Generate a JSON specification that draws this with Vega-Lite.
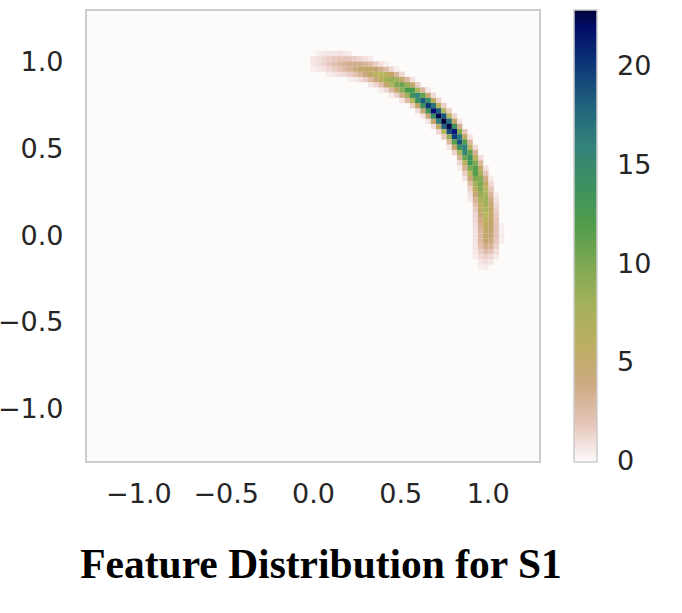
{
  "$schema": "https://vega.github.io/schema/vega-lite/v6.json",
  "width": 454,
  "height": 452,
  "autosize": {"type": "none"},
  "padding": {"left": 86, "top": 10, "right": 142, "bottom": 151},
  "background": "white",
  "title": {"text": "Feature Distribution for S1", "orient": "bottom", "font": "Liberation Serif", "fontSize": 41.5, "fontWeight": "bold", "color": "#000000", "offset": 38, "dx": 8},
  "data": {"values": [
    {"x":0.0,"y":0.96,"v":0.4},{"x":0.0,"y":0.99,"v":0.65},{"x":0.0,"y":1.02,"v":0.6},
    {"x":0.03,"y":0.96,"v":0.56},{"x":0.03,"y":0.99,"v":0.92},{"x":0.03,"y":1.02,"v":0.83},{"x":0.03,"y":1.05,"v":0.41},
    {"x":0.06,"y":0.96,"v":0.82},{"x":0.06,"y":0.99,"v":1.3},{"x":0.06,"y":1.02,"v":1.13},{"x":0.06,"y":1.05,"v":0.55},
    {"x":0.09,"y":0.93,"v":0.42},{"x":0.09,"y":0.96,"v":1.15},{"x":0.09,"y":0.99,"v":1.73},{"x":0.09,"y":1.02,"v":1.44},{"x":0.09,"y":1.05,"v":0.67},
    {"x":0.12,"y":0.93,"v":0.6},{"x":0.12,"y":0.96,"v":1.55},{"x":0.12,"y":0.99,"v":2.2},{"x":0.12,"y":1.02,"v":1.73},{"x":0.12,"y":1.05,"v":0.75},
    {"x":0.15,"y":0.93,"v":0.87},{"x":0.15,"y":0.96,"v":2.06},{"x":0.15,"y":0.99,"v":2.69},{"x":0.15,"y":1.02,"v":1.96},{"x":0.15,"y":1.05,"v":0.8},
    {"x":0.18,"y":0.93,"v":1.12},{"x":0.18,"y":0.96,"v":2.57},{"x":0.18,"y":0.99,"v":3.1},{"x":0.18,"y":1.02,"v":1.96},{"x":0.18,"y":1.05,"v":0.65},
    {"x":0.21,"y":0.90,"v":0.4},{"x":0.21,"y":0.93,"v":1.56},{"x":0.21,"y":0.96,"v":3.2},{"x":0.21,"y":0.99,"v":3.4},{"x":0.21,"y":1.02,"v":1.87},{"x":0.21,"y":1.05,"v":0.53},
    {"x":0.24,"y":0.90,"v":0.6},{"x":0.24,"y":0.93,"v":2.15},{"x":0.24,"y":0.96,"v":3.87},{"x":0.24,"y":0.99,"v":3.5},{"x":0.24,"y":1.02,"v":1.6},
    {"x":0.27,"y":0.90,"v":0.97},{"x":0.27,"y":0.93,"v":3.0},{"x":0.27,"y":0.96,"v":4.57},{"x":0.27,"y":0.99,"v":3.4},{"x":0.27,"y":1.02,"v":1.25},
    {"x":0.30,"y":0.90,"v":1.6},{"x":0.30,"y":0.93,"v":4.1},{"x":0.30,"y":0.96,"v":5.1},{"x":0.30,"y":0.99,"v":3.05},{"x":0.30,"y":1.02,"v":0.87},
    {"x":0.33,"y":0.87,"v":0.61},{"x":0.33,"y":0.90,"v":2.6},{"x":0.33,"y":0.93,"v":5.3},{"x":0.33,"y":0.96,"v":5.2},{"x":0.33,"y":0.99,"v":2.4},{"x":0.33,"y":1.02,"v":0.51},
    {"x":0.36,"y":0.87,"v":1.24},{"x":0.36,"y":0.90,"v":4.1},{"x":0.36,"y":0.93,"v":6.4},{"x":0.36,"y":0.96,"v":4.74},{"x":0.36,"y":0.99,"v":1.63},
    {"x":0.39,"y":0.84,"v":0.47},{"x":0.39,"y":0.87,"v":2.4},{"x":0.39,"y":0.90,"v":6.0},{"x":0.39,"y":0.93,"v":6.94},{"x":0.39,"y":0.96,"v":3.72},{"x":0.39,"y":0.99,"v":0.91},
    {"x":0.42,"y":0.84,"v":1.16},{"x":0.42,"y":0.87,"v":4.4},{"x":0.42,"y":0.90,"v":7.9},{"x":0.42,"y":0.93,"v":6.5},{"x":0.42,"y":0.96,"v":2.44},{"x":0.42,"y":0.99,"v":0.4},
    {"x":0.45,"y":0.81,"v":0.47},{"x":0.45,"y":0.84,"v":2.67},{"x":0.45,"y":0.87,"v":7.2},{"x":0.45,"y":0.90,"v":8.8},{"x":0.45,"y":0.93,"v":4.9},{"x":0.45,"y":0.96,"v":1.23},
    {"x":0.48,"y":0.81,"v":1.42},{"x":0.48,"y":0.84,"v":5.5},{"x":0.48,"y":0.87,"v":9.9},{"x":0.48,"y":0.90,"v":8.1},{"x":0.48,"y":0.93,"v":2.9},{"x":0.48,"y":0.96,"v":0.46},
    {"x":0.51,"y":0.78,"v":0.7},{"x":0.51,"y":0.81,"v":3.76},{"x":0.51,"y":0.84,"v":9.4},{"x":0.51,"y":0.87,"v":10.8},{"x":0.51,"y":0.90,"v":5.5},{"x":0.51,"y":0.93,"v":1.24},
    {"x":0.54,"y":0.78,"v":2.4},{"x":0.54,"y":0.81,"v":8.1},{"x":0.54,"y":0.84,"v":12.6},{"x":0.54,"y":0.87,"v":8.8},{"x":0.54,"y":0.90,"v":2.66},
    {"x":0.57,"y":0.75,"v":1.55},{"x":0.57,"y":0.78,"v":6.8},{"x":0.57,"y":0.81,"v":13.75},{"x":0.57,"y":0.84,"v":12.6},{"x":0.57,"y":0.87,"v":5.0},{"x":0.57,"y":0.90,"v":0.86},
    {"x":0.60,"y":0.72,"v":0.98},{"x":0.60,"y":0.75,"v":5.3},{"x":0.60,"y":0.78,"v":14.0},{"x":0.60,"y":0.81,"v":16.0},{"x":0.60,"y":0.84,"v":7.6},{"x":0.60,"y":0.87,"v":1.6},
    {"x":0.63,"y":0.69,"v":0.76},{"x":0.63,"y":0.72,"v":4.4},{"x":0.63,"y":0.75,"v":13.7},{"x":0.63,"y":0.78,"v":18.5},{"x":0.63,"y":0.81,"v":11.3},{"x":0.63,"y":0.84,"v":2.8},
    {"x":0.66,"y":0.66,"v":0.75},{"x":0.66,"y":0.69,"v":4.2},{"x":0.66,"y":0.72,"v":13.6},{"x":0.66,"y":0.75,"v":20.3},{"x":0.66,"y":0.78,"v":14.3},{"x":0.66,"y":0.81,"v":4.4},{"x":0.66,"y":0.84,"v":0.64},
    {"x":0.69,"y":0.63,"v":0.9},{"x":0.69,"y":0.66,"v":4.7},{"x":0.69,"y":0.69,"v":14.6},{"x":0.69,"y":0.72,"v":21.8},{"x":0.69,"y":0.75,"v":17.2},{"x":0.69,"y":0.78,"v":6.0},{"x":0.69,"y":0.81,"v":1.05},
    {"x":0.72,"y":0.78,"v":1.3},
    {"x":0.72,"y":0.75,"v":6.6},{"x":0.75,"y":0.75,"v":1.45},
    {"x":0.72,"y":0.72,"v":18.2},{"x":0.75,"y":0.72,"v":7.0},{"x":0.78,"y":0.72,"v":1.46},
    {"x":0.72,"y":0.69,"v":22.6},{"x":0.75,"y":0.69,"v":18.8},{"x":0.78,"y":0.69,"v":6.6},{"x":0.81,"y":0.69,"v":1.2},
    {"x":0.72,"y":0.66,"v":16.5},{"x":0.75,"y":0.66,"v":22.9},{"x":0.78,"y":0.66,"v":17.4},{"x":0.81,"y":0.66,"v":5.2},{"x":0.84,"y":0.66,"v":0.75},
    {"x":0.72,"y":0.63,"v":5.9},{"x":0.75,"y":0.63,"v":18.1},{"x":0.78,"y":0.63,"v":22.6},{"x":0.81,"y":0.63,"v":14.1},{"x":0.84,"y":0.63,"v":3.4},
    {"x":0.72,"y":0.60,"v":1.3},{"x":0.75,"y":0.60,"v":7.1},{"x":0.78,"y":0.60,"v":19.2},{"x":0.81,"y":0.60,"v":21.5},{"x":0.84,"y":0.60,"v":10.0},{"x":0.87,"y":0.60,"v":1.9},
    {"x":0.75,"y":0.57,"v":1.8},{"x":0.78,"y":0.57,"v":8.8},{"x":0.81,"y":0.57,"v":19.8},{"x":0.84,"y":0.57,"v":17.0},{"x":0.87,"y":0.57,"v":5.6},{"x":0.90,"y":0.57,"v":0.78},
    {"x":0.78,"y":0.54,"v":2.8},{"x":0.81,"y":0.54,"v":11.8},{"x":0.84,"y":0.54,"v":19.0},{"x":0.87,"y":0.54,"v":12.0},{"x":0.90,"y":0.54,"v":2.75},
    {"x":0.78,"y":0.51,"v":0.62},{"x":0.81,"y":0.51,"v":4.6},{"x":0.84,"y":0.51,"v":14.3},{"x":0.87,"y":0.51,"v":16.4},{"x":0.90,"y":0.51,"v":6.6},{"x":0.93,"y":0.51,"v":1.0},
    {"x":0.81,"y":0.48,"v":1.4},{"x":0.84,"y":0.48,"v":7.3},{"x":0.87,"y":0.48,"v":15.8},{"x":0.90,"y":0.48,"v":11.3},{"x":0.93,"y":0.48,"v":3.1},
    {"x":0.84,"y":0.45,"v":3.2},{"x":0.87,"y":0.45,"v":10.9},{"x":0.90,"y":0.45,"v":13.9},{"x":0.93,"y":0.45,"v":6.4},{"x":0.96,"y":0.45,"v":1.1},
    {"x":0.84,"y":0.42,"v":1.25},{"x":0.87,"y":0.42,"v":6.4},{"x":0.90,"y":0.42,"v":13.1},{"x":0.93,"y":0.42,"v":10.0},{"x":0.96,"y":0.42,"v":2.8},
    {"x":0.84,"y":0.39,"v":0.42},{"x":0.87,"y":0.39,"v":3.3},{"x":0.90,"y":0.39,"v":10.2},{"x":0.93,"y":0.39,"v":11.9},{"x":0.96,"y":0.39,"v":5.3},{"x":0.99,"y":0.39,"v":0.88},
    {"x":0.87,"y":0.36,"v":1.6},{"x":0.90,"y":0.36,"v":6.8},{"x":0.93,"y":0.36,"v":11.8},{"x":0.96,"y":0.36,"v":7.9},{"x":0.99,"y":0.36,"v":2.0},
    {"x":0.87,"y":0.33,"v":0.72},{"x":0.90,"y":0.33,"v":4.2},{"x":0.93,"y":0.33,"v":10.1},{"x":0.96,"y":0.33,"v":9.6},{"x":0.99,"y":0.33,"v":3.6},{"x":1.02,"y":0.33,"v":0.53},
    {"x":0.90,"y":0.30,"v":2.5},{"x":0.93,"y":0.30,"v":8.0},{"x":0.96,"y":0.30,"v":10.25},{"x":0.99,"y":0.30,"v":5.4},{"x":1.02,"y":0.30,"v":1.1},
    {"x":0.90,"y":0.27,"v":1.46},{"x":0.93,"y":0.27,"v":5.9},{"x":0.96,"y":0.27,"v":9.85},{"x":0.99,"y":0.27,"v":6.8},{"x":1.02,"y":0.27,"v":1.9},
    {"x":0.90,"y":0.24,"v":0.9},{"x":0.93,"y":0.24,"v":4.3},{"x":0.96,"y":0.24,"v":8.8},{"x":0.99,"y":0.24,"v":7.7},{"x":1.02,"y":0.24,"v":2.8},{"x":1.05,"y":0.24,"v":0.44},
    {"x":0.90,"y":0.21,"v":0.56},{"x":0.93,"y":0.21,"v":3.1},{"x":0.96,"y":0.21,"v":7.6},{"x":0.99,"y":0.21,"v":8.1},{"x":1.02,"y":0.21,"v":3.7},{"x":1.05,"y":0.21,"v":0.73},
    {"x":0.93,"y":0.18,"v":2.3},{"x":0.96,"y":0.18,"v":6.4},{"x":0.99,"y":0.18,"v":7.95},{"x":1.02,"y":0.18,"v":4.45},{"x":1.05,"y":0.18,"v":1.1},
    {"x":0.93,"y":0.15,"v":1.77},{"x":0.96,"y":0.15,"v":5.4},{"x":0.99,"y":0.15,"v":7.5},{"x":1.02,"y":0.15,"v":4.9},{"x":1.05,"y":0.15,"v":1.5},
    {"x":0.93,"y":0.12,"v":1.38},{"x":0.96,"y":0.12,"v":4.5},{"x":0.99,"y":0.12,"v":6.95},{"x":1.02,"y":0.12,"v":5.1},{"x":1.05,"y":0.12,"v":1.75},
    {"x":0.93,"y":0.09,"v":1.1},{"x":0.96,"y":0.09,"v":3.8},{"x":0.99,"y":0.09,"v":6.3},{"x":1.02,"y":0.09,"v":5.0},{"x":1.05,"y":0.09,"v":1.94},
    {"x":0.93,"y":0.06,"v":0.95},{"x":0.96,"y":0.06,"v":3.3},{"x":0.99,"y":0.06,"v":5.7},{"x":1.02,"y":0.06,"v":4.9},{"x":1.05,"y":0.06,"v":2.0},{"x":1.08,"y":0.06,"v":0.41},
    {"x":0.93,"y":0.03,"v":0.88},{"x":0.96,"y":0.03,"v":3.0},{"x":0.99,"y":0.03,"v":5.3},{"x":1.02,"y":0.03,"v":4.65},{"x":1.05,"y":0.03,"v":2.05},{"x":1.08,"y":0.03,"v":0.45},
    {"x":0.93,"y":0.0,"v":0.83},{"x":0.96,"y":0.0,"v":2.8},{"x":0.99,"y":0.0,"v":4.8},{"x":1.02,"y":0.0,"v":4.3},{"x":1.05,"y":0.0,"v":2.0},{"x":1.08,"y":0.0,"v":0.47},
    {"x":0.93,"y":-0.03,"v":0.82},{"x":0.96,"y":-0.03,"v":2.64},{"x":0.99,"y":-0.03,"v":4.45},{"x":1.02,"y":-0.03,"v":3.96},{"x":1.05,"y":-0.03,"v":1.85},{"x":1.08,"y":-0.03,"v":0.46},
    {"x":0.93,"y":-0.06,"v":0.73},{"x":0.96,"y":-0.06,"v":2.2},{"x":0.99,"y":-0.06,"v":3.5},{"x":1.02,"y":-0.06,"v":3.05},{"x":1.05,"y":-0.06,"v":1.44},
    {"x":0.93,"y":-0.09,"v":0.6},{"x":0.96,"y":-0.09,"v":1.63},{"x":0.99,"y":-0.09,"v":2.47},{"x":1.02,"y":-0.09,"v":2.06},{"x":1.05,"y":-0.09,"v":0.95},
    {"x":0.93,"y":-0.12,"v":0.42},{"x":0.96,"y":-0.12,"v":1.1},{"x":0.99,"y":-0.12,"v":1.55},{"x":1.02,"y":-0.12,"v":1.2},{"x":1.05,"y":-0.12,"v":0.53},
    {"x":0.96,"y":-0.15,"v":0.69},{"x":0.99,"y":-0.15,"v":0.9},{"x":1.02,"y":-0.15,"v":0.66},
    {"x":0.96,"y":-0.18,"v":0.42},{"x":0.99,"y":-0.18,"v":0.5}
  ]},
  "mark": {"type": "square", "size": 29, "opacity": 1, "filled": true, "strokeWidth": 0},
  "encoding": {
    "x": {"field": "x", "type": "quantitative",
      "scale": {"domain": [-1.3, 1.3], "nice": false, "zero": false},
      "axis": {"values": [-1, -0.5, 0, 0.5, 1], "format": ".1f", "title": null, "ticks": false, "tickSize": 0, "domain": false, "grid": false,
        "labelFont": "DejaVu Sans", "labelFontSize": 27, "labelColor": "#262626", "labelPadding": 19}},
    "y": {"field": "y", "type": "quantitative",
      "scale": {"domain": [-1.3, 1.3], "nice": false, "zero": false},
      "axis": {"values": [-1, -0.5, 0, 0.5, 1], "format": ".1f", "title": null, "ticks": false, "tickSize": 0, "domain": false, "grid": false,
        "labelFont": "DejaVu Sans", "labelFontSize": 27, "labelColor": "#262626", "labelPadding": 23}},
    "color": {"field": "v", "type": "quantitative",
      "scale": {
        "domain": [0, 1.145, 2.29, 3.435, 4.58, 5.725, 6.87, 8.015, 9.16, 10.305, 11.45, 12.595, 13.74, 14.885, 16.03, 17.175, 18.32, 19.465, 20.61, 21.755, 22.9],
        "range": ["#fdfafa", "#efd8d5", "#e1beae", "#d2af8e", "#c4a46f", "#bdab62", "#b7b75e", "#a3b15a", "#8eac56", "#79a652", "#5da04b", "#44994b", "#3e915b", "#388a6a", "#32837a", "#2a737e", "#225e7c", "#194679", "#112b77", "#080d75", "#03033a"],
        "clamp": true},
      "legend": {"title": null, "orient": "right", "offset": 34, "direction": "vertical", "values": [0.001, 5, 10, 15, 20], "format": ".0f",
        "gradientLength": 452, "gradientThickness": 23, "gradientStrokeColor": "#cccccc", "gradientStrokeWidth": 1.5,
        "labelFont": "DejaVu Sans", "labelFontSize": 27, "labelColor": "#262626", "labelOffset": 20, "padding": 0}}
  },
  "config": {
    "view": {"fill": "#fdfafa", "stroke": "#cccccc", "strokeWidth": 2}
  }
}
